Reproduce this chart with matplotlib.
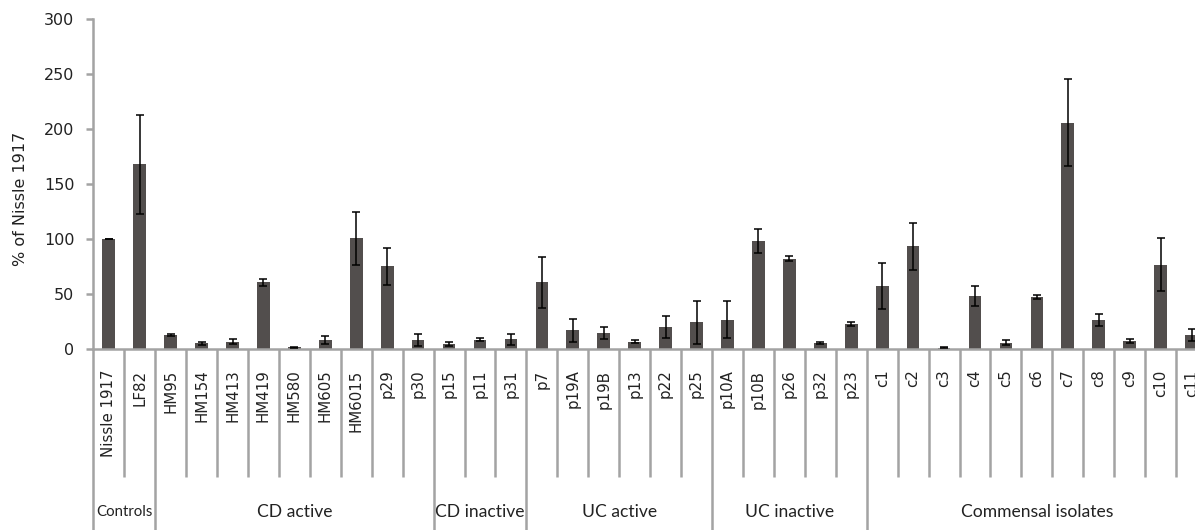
import numpy as np
import matplotlib.pyplot as plt

strains = ['Nissle 1917', 'LF82',
           'HM95', 'HM154', 'HM413', 'HM419', 'HM580', 'HM605', 'HM6015', 'p29', 'p30',
           'p15', 'p11', 'p31',
           'p7', 'p19A', 'p19B', 'p13', 'p22', 'p25',
           'p10A', 'p10B', 'p26', 'p32', 'p23',
           'c1', 'c2', 'c3', 'c4', 'c5', 'c6', 'c7', 'c8', 'c9', 'c10', 'c11']
values = [100, 168,
          12.5, 5, 6.5, 60.5, 1.5, 8, 100.5, 75, 8,
          4.5, 8.2, 8.5,
          60.5, 17, 14, 6.5, 19.5, 24,
          26.5, 98, 82, 5, 22.5,
          57, 93.5, 1, 48, 5.5, 47, 206, 26.5, 7, 76.5, 12.5]
errors = [0.3, 45,
          0.8, 1.5, 2, 3, 0.5, 3.5, 24, 16.5, 5.5,
          2, 1.2, 5.3,
          23.5, 10.5, 5.5, 1, 10, 19.5,
          17, 11, 2.5, 1, 1.5,
          21, 21.5, 0.2, 9.5, 2.5, 1.5, 39.5, 5.5, 1.5, 24, 5.5]
groups = ['Controls', 'CD active', 'CD inactive', 'UC active', 'UC inactive', 'Commensal isolates']
group_sizes = [2, 9, 3, 6, 5, 11]

W, H = 1195, 530
gray = '#a3a3a3'
bar_color = '#524e4d'

fig = plt.figure(figsize=(W / 100, H / 100), dpi=100)
y0, y300 = 348.7, 19.5
x_left, x_right = 93.3, 1207.0
ax = fig.add_axes([x_left / W, 1 - y0 / H, (x_right - x_left) / W, (y0 - y300) / H])

x = np.arange(len(strains))
ax.bar(x, values, 0.41, color=bar_color, edgecolor='none', zorder=2)
ax.errorbar(x, values, yerr=errors, fmt='none', ecolor='black',
            elinewidth=1.1, capsize=3.2, capthick=1.1, zorder=3)

ax.set_xlim(-0.5, len(strains) - 0.5)
ax.set_ylim(0, 300)
ax.set_yticks(np.arange(0, 301, 50))
ax.set_xticks(x)
ax.set_xticklabels(strains, rotation=90, va='top', ha='center')
ax.tick_params(axis='x', length=0, pad=15, labelsize=10.8, labelcolor='#222222')
ax.tick_params(axis='y', length=5, width=1.8, color=gray, pad=8.6,
               labelsize=11.5, labelcolor='#222222')

for s in ['top', 'right']:
    ax.spines[s].set_visible(False)
for s in ['left', 'bottom']:
    ax.spines[s].set_color(gray)
    ax.spines[s].set_linewidth(1.8)


def frac(ypx):
    return (y0 - ypx) / (y0 - y300)


trans = ax.get_xaxis_transform()
bounds = np.concatenate([[0], np.cumsum(group_sizes)])
for k in range(len(strains) + 1):
    bottom = frac(540) if k in bounds else frac(476.7)
    ax.plot([k - 0.5, k - 0.5], [0, bottom], color=gray, lw=1.8,
            transform=trans, clip_on=False, zorder=1, solid_capstyle='butt')

for i, name in enumerate(groups):
    mid = (bounds[i] + bounds[i + 1]) / 2 - 0.5
    size = 10.8 if name == 'Controls' else 12.6
    ax.text(mid, frac(512), name, transform=trans, ha='center', va='center',
            fontsize=size, family='Lato', color='#222222')

fig.text(21 / W, 1 - 199 / H, '% of Nissle 1917', rotation=90, ha='center',
         va='center', fontsize=11.5, color='#222222')

fig.savefig('out.png', dpi=100)
